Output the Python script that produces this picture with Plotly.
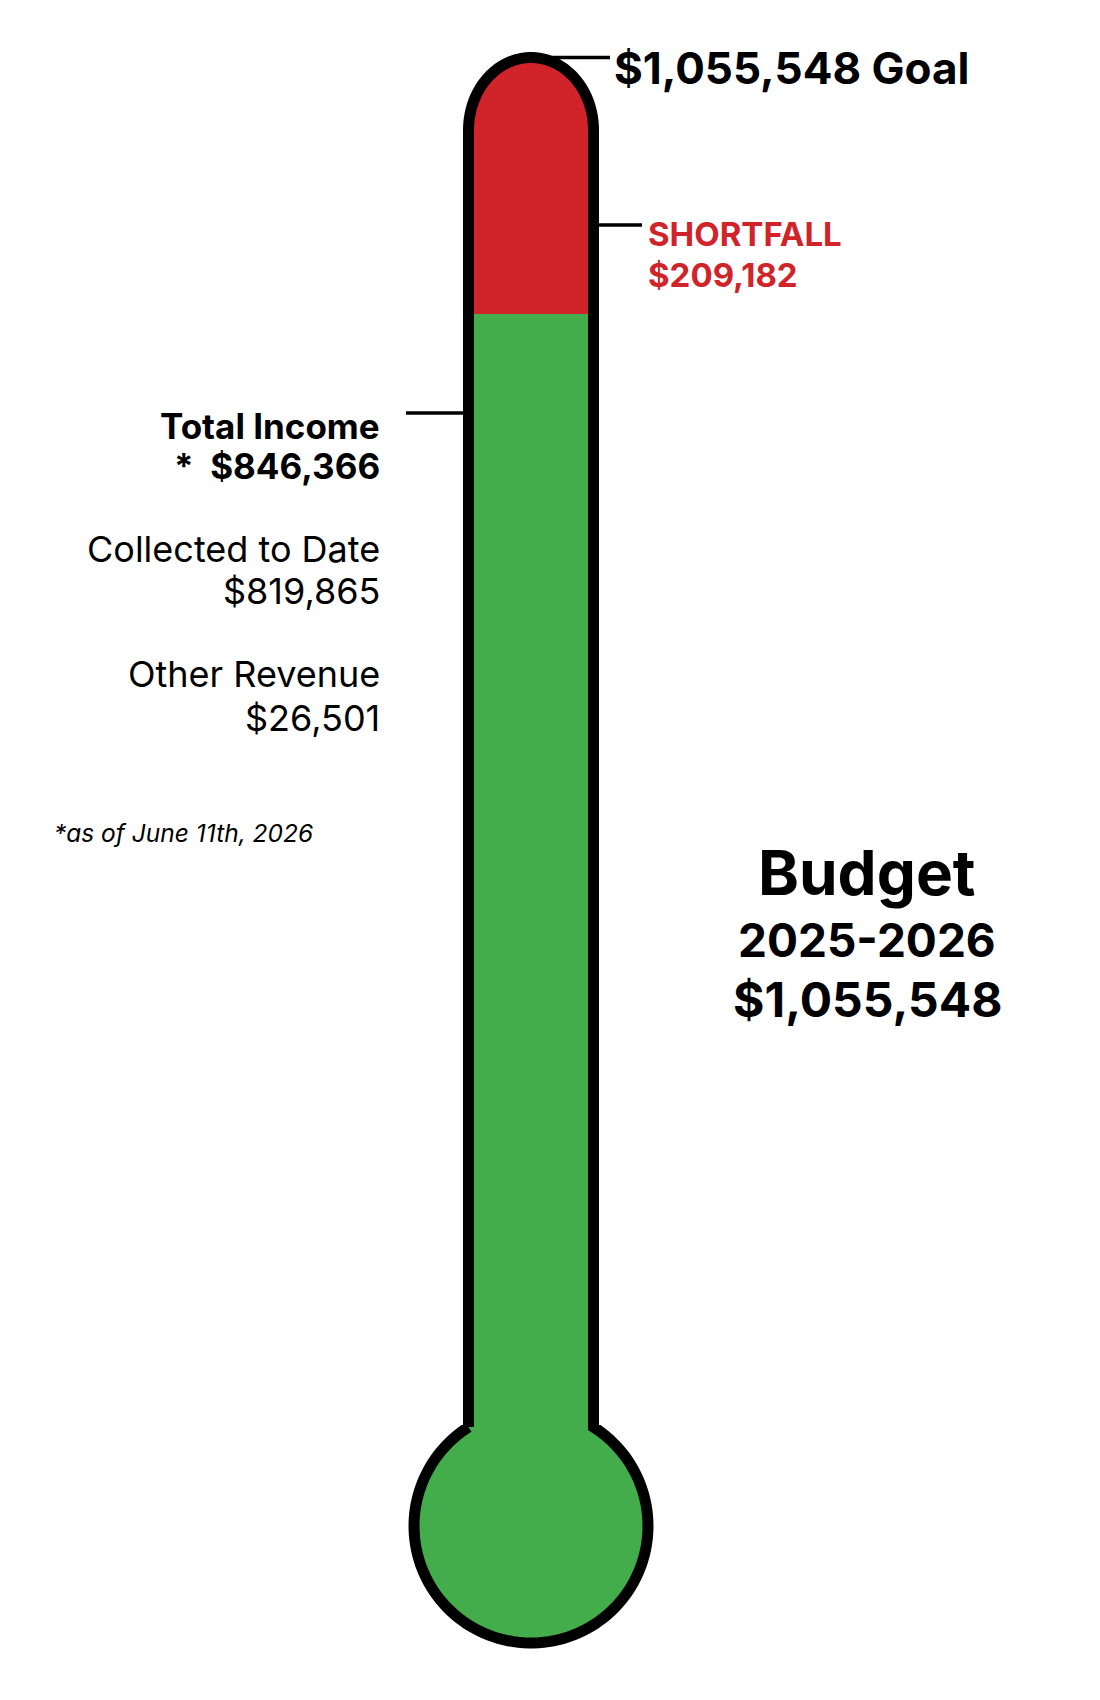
import numpy as np
import plotly.graph_objects as go

# budget figures (dollars)
goal = 1055548
total_income = 846366
collected = 819865
other_revenue = 26501
shortfall = goal - total_income
budget_year = "2025-2026"
as_of = "June 11th, 2026"

OFF = 8                      # default page margin of the html body
W, H = 1100 - OFF, 1700 - OFF
RED = '#D0232A'
GREEN = '#42AD4A'
FONT = 'Inter'

# thermometer geometry (page pixels)
CX = 531
HALF = 62.5          # stroke centre half width of the stem
CAP_TOP = 57.5
CAP_START = 130
BULB_CY, BULB_R = 1526, 117
STROKE = 11
GOAL_PX, INCOME_PX = 57.5, 314

# dollar axis so goal and income land on the tube
per_px = (goal - total_income) / (INCOME_PX - GOAL_PX)
y_top = goal + (GOAL_PX - OFF) * per_px
y_bottom = goal - (H + OFF - GOAL_PX) * per_px
bulb_value = goal - (BULB_CY - GOAL_PX) * per_px


def px(x):
    return (x - OFF) / W


def py(y):
    return 1 - (y - OFF) / H


def P(x, y):
    return f"{px(x):.5f},{py(y):.5f}"


def path_from(points, close=False):
    s = 'M ' + ' L '.join(P(x, y) for x, y in points)
    return s + (' Z' if close else '')


t_cap = np.linspace(np.pi, 0, 60)
cap_pts = [(CX + HALF * np.cos(t), CAP_START - (CAP_START - CAP_TOP) * np.sin(t)) for t in t_cap]

neck_dy = np.sqrt(BULB_R ** 2 - HALF ** 2)
a0 = np.arctan2(-neck_dy, HALF)
t_bulb = np.linspace(a0, np.pi - a0, 120)
bulb_pts = [(CX + BULB_R * np.cos(t), BULB_CY + BULB_R * np.sin(t)) for t in t_bulb]

outline = [(CX - HALF, BULB_CY - neck_dy)] + cap_pts + bulb_pts

# white masks outside the rounded cap
left_mask = [(CX - HALF - 8, CAP_START), (CX - HALF - 8, CAP_TOP - 10), (CX, CAP_TOP - 10)] + \
    [p for p in cap_pts if p[0] <= CX][::-1]
right_mask = [(CX + HALF + 8, CAP_START), (CX + HALF + 8, CAP_TOP - 10), (CX, CAP_TOP - 10)] + \
    [p for p in cap_pts if p[0] >= CX]

fig = go.Figure()
fig.add_trace(go.Bar(x=[CX], y=[total_income - bulb_value], base=[bulb_value],
                     width=[2 * HALF], marker=dict(color=GREEN, line=dict(width=0)),
                     name='Total Income', hoverinfo='skip'))
fig.add_trace(go.Bar(x=[CX], y=[shortfall], base=[total_income],
                     width=[2 * HALF], marker=dict(color=RED, line=dict(width=0)),
                     name='Shortfall', hoverinfo='skip'))

shapes = [
    dict(type='path', xref='paper', yref='paper', path=path_from(left_mask, True),
         fillcolor='white', line=dict(width=0)),
    dict(type='path', xref='paper', yref='paper', path=path_from(right_mask, True),
         fillcolor='white', line=dict(width=0)),
    dict(type='path', xref='paper', yref='paper', path=path_from(bulb_pts, True),
         fillcolor=GREEN, line=dict(width=0)),
    dict(type='path', xref='paper', yref='paper', path=path_from(outline),
         line=dict(color='black', width=STROKE)),
    # leader lines
    dict(type='line', xref='x', yref='y', x0=CX, x1=610, y0=goal, y1=goal,
         line=dict(color='black', width=3.5)),
    dict(type='line', xref='x', yref='paper', x0=599, x1=642, y0=py(225), y1=py(225),
         line=dict(color='black', width=3.5)),
    dict(type='line', xref='x', yref='paper', x0=406, x1=463, y0=py(413), y1=py(413),
         line=dict(color='black', width=3.5)),
]


def label(text, x, baseline, size, anchor='left', color='black', family=FONT):
    return dict(text=text, x=px(x), y=py(baseline - 0.39 * size),
                xref='paper', yref='paper', xanchor=anchor, yanchor='middle',
                showarrow=False, font=dict(family=family, size=size, color=color))


RX = 382   # right edge of the left column
BX = 867   # centre of the budget block
annotations = [
    label(f"<b>${goal:,} Goal</b>", 612, 85, 44),
    label("<b>SHORTFALL</b>", 646, 247, 33, color=RED),
    label(f"<b>${shortfall:,}</b>", 646, 288, 33, color=RED),
    label("<b>Total Income</b>", RX, 440, 35, anchor='right'),
    label(f"<b>*&nbsp;&nbsp;${total_income:,}</b>", RX, 480, 35, anchor='right'),
    label("Collected to Date", RX, 563, 36, anchor='right'),
    label(f"${collected:,}", RX, 605, 36, anchor='right'),
    label("Other Revenue", RX, 688, 36, anchor='right'),
    label(f"${other_revenue:,}", RX, 732, 36, anchor='right'),
    label(f"<i>*as of {as_of}</i>", 52, 843, 24.5),
    label("<b>Budget</b>", BX, 897, 62, anchor='center'),
    label(f"<b>{budget_year}</b>", BX, 958, 46, anchor='center'),
    label(f"<b>${goal:,}</b>", BX, 1018, 48, anchor='center'),
]

fig.update_layout(
    width=W, height=H, autosize=False,
    margin=dict(l=0, r=0, t=0, b=0),
    paper_bgcolor='white', plot_bgcolor='white',
    showlegend=False, barmode='overlay', bargap=0,
    xaxis=dict(range=[OFF, W + OFF], visible=False, fixedrange=True),
    yaxis=dict(range=[y_bottom, y_top], visible=False, fixedrange=True),
    shapes=shapes, annotations=annotations,
)

fig.write_html("out.html")
